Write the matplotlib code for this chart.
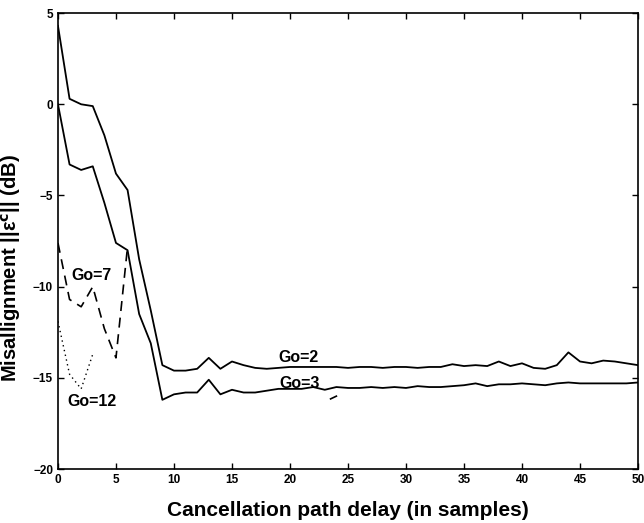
import numpy as np
import matplotlib
matplotlib.use('Agg')
import matplotlib.pyplot as plt

plt.rcParams['font.family'] = ['Liberation Sans', 'DejaVu Sans']
plt.rcParams['font.weight'] = 'bold'
plt.rcParams['mathtext.default'] = 'bf'

# delay axis
delay = np.arange(0, 51)

# Go=2 (upper solid)
go2 = [4.3, 0.3, 0.0, -0.1, -1.7, -3.8, -4.7, -8.5, -11.3, -14.3,
       -14.6, -14.6, -14.5, -13.9, -14.5, -14.1, -14.3, -14.45, -14.5, -14.45,
       -14.4, -14.4, -14.4, -14.4, -14.4, -14.45, -14.4, -14.4, -14.45, -14.4,
       -14.4, -14.45, -14.4, -14.4, -14.25, -14.35, -14.3, -14.35, -14.1, -14.35,
       -14.2, -14.45, -14.5, -14.3, -13.6, -14.1, -14.2, -14.05, -14.1, -14.2, -14.3]

# Go=3 (lower solid)
go3 = [0.0, -3.3, -3.6, -3.4, -5.4, -7.6, -8.0, -11.5, -13.1, -16.2,
       -15.9, -15.8, -15.8, -15.1, -15.9, -15.65, -15.8, -15.8, -15.7, -15.6,
       -15.6, -15.6, -15.5, -15.65, -15.5, -15.55, -15.55, -15.5, -15.55, -15.5,
       -15.55, -15.45, -15.5, -15.5, -15.45, -15.4, -15.3, -15.45, -15.35, -15.35,
       -15.3, -15.35, -15.4, -15.3, -15.25, -15.3, -15.3, -15.3, -15.3, -15.3, -15.25]

# Go=7 (dashed)
delay7 = [0, 1, 2, 3, 4, 5, 6]
go7 = [-7.6, -10.7, -11.1, -10.0, -12.3, -13.9, -7.8]

# Go=12 (dotted)
delay12 = [0, 1, 2, 3]
go12 = [-11.9, -14.8, -15.6, -13.7]

# stray fragment near delay 24
frag_x = [23.5, 24.0]
frag_y = [-16.15, -16.0]

fig = plt.figure(figsize=(6.44, 5.23), dpi=100)
ax = fig.add_axes([0.09, 0.103, 0.9007, 0.872])

ax.plot(delay, go2, color='black', lw=1.3)
ax.plot(delay, go3, color='black', lw=1.3)
ax.plot(delay7, go7, color='black', lw=1.2, ls=(0, (6, 4)))
ax.plot(delay12, go12, color='black', lw=1.0, ls=(0, (1, 2.5)))
ax.plot(frag_x, frag_y, color='black', lw=1.2)

ax.text(2.9, -9.4, 'Go=7', fontsize=11.5, fontweight='bold', ha='center', va='center')
ax.text(2.9, -16.3, 'Go=12', fontsize=11.5, fontweight='bold', ha='center', va='center')
ax.text(20.7, -13.9, 'Go=2', fontsize=11.5, fontweight='bold', ha='center', va='center')
ax.text(20.8, -15.3, 'Go=3', fontsize=11.5, fontweight='bold', ha='center', va='center')

ax.set_xlim(0, 50)
ax.set_ylim(-20, 5)
ax.set_xticks(np.arange(0, 51, 5))
ax.set_yticks(np.arange(-20, 6, 5))
ax.tick_params(direction='in', top=True, right=True, length=4, labelsize=8.5, width=1)
for lab in ax.get_xticklabels() + ax.get_yticklabels():
    lab.set_fontweight('bold')
for s in ax.spines.values():
    s.set_linewidth(1.2)

ax.set_xlabel('Cancellation path delay (in samples)', fontsize=15, fontweight='bold', labelpad=11)
ax.set_ylabel('Misallignment ||ε$^{c}$|| (dB)', fontsize=14.5, fontweight='bold')
ax.yaxis.set_label_coords(-0.06, 0.44)

fig.savefig('out.png', dpi=100)
